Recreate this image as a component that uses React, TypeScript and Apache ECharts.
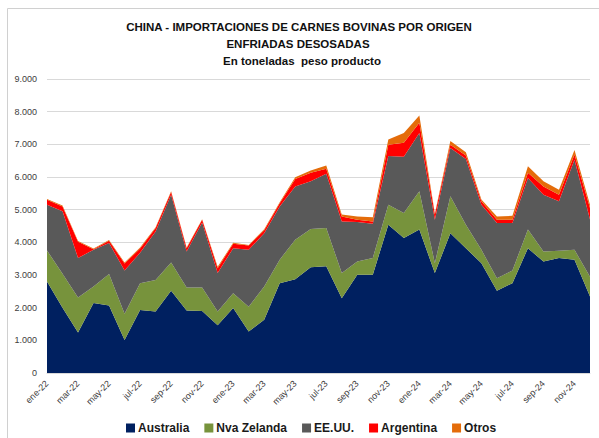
import React, { useEffect, useRef } from "react";
import * as echarts from "echarts";

const months = [
  "ene-22","feb-22","mar-22","abr-22","may-22","jun-22","jul-22","ago-22","sep-22","oct-22","nov-22","dic-22",
  "ene-23","feb-23","mar-23","abr-23","may-23","jun-23","jul-23","ago-23","sep-23","oct-23","nov-23","dic-23",
  "ene-24","feb-24","mar-24","abr-24","may-24","jun-24","jul-24","ago-24","sep-24","oct-24","nov-24","dic-24",
];

const australia = [2800,2000,1240,2140,2070,1010,1930,1880,2520,1910,1900,1460,1990,1270,1630,2750,2870,3240,3270,2290,3010,3010,4540,4130,4390,3060,4280,3820,3360,2520,2750,3820,3410,3520,3470,2340];
const nvaZelanda = [950,1040,1070,510,960,800,820,970,860,710,720,420,450,760,1020,720,1210,1170,1170,770,400,510,610,770,1170,300,1130,720,410,380,390,570,310,220,300,610];
const eeuu = [1400,1910,1210,1120,950,1330,930,1480,2080,1100,1990,1180,1380,1740,1630,1630,1630,1460,1660,1580,1210,1050,1490,1720,1790,1330,1480,2010,1380,1690,1450,1580,1740,1520,2760,1750];
const argentina = [150,150,500,20,70,210,130,110,80,100,80,150,140,130,90,100,230,260,150,150,70,70,350,430,310,160,100,110,110,100,100,160,250,200,160,350];
const otros = [30,30,20,20,20,30,30,20,20,20,20,40,30,20,30,30,50,70,100,60,100,130,160,300,220,30,110,100,50,100,120,200,160,150,140,100];

const yTicks = [0, 1000, 2000, 3000, 4000, 5000, 6000, 7000, 8000, 9000];

const fmt = (v: number) => String(v).replace(/\B(?=(\d{3})+(?!\d))/g, ".");

export default function App() {
  const ref = useRef<HTMLDivElement>(null);
  useEffect(() => {
    if (!ref.current) return;
    const chart = echarts.init(ref.current, null, { renderer: "svg" });
    const font = "Liberation Sans";
    const mk = (name: string, data: number[], color: string) => ({
      name,
      type: "line",
      stack: "total",
      data,
      symbol: "none",
      lineStyle: { width: 0 },
      areaStyle: { color, opacity: 1 },
      itemStyle: { color },
    });
    const title = (text: string, x: number, y: number) => ({
      type: "text",
      x,
      y,
      style: {
        text,
        fontFamily: font,
        fontWeight: "bold",
        fontSize: 11.5,
        fill: "#111",
        align: "center",
        verticalAlign: "middle",
      },
    });
    chart.setOption({
      animation: false,
      textStyle: { fontFamily: font },
      graphic: [
        {
          type: "rect",
          shape: { x: 7.5, y: 8.5, width: 620, height: 460 },
          style: { fill: "none", stroke: "#d0d0d0", lineWidth: 1 },
          silent: true,
        },
        title("CHINA - IMPORTACIONES DE CARNES BOVINAS POR ORIGEN", 299, 27),
        title("ENFRIADAS DESOSADAS", 298, 44),
        title("En toneladas  peso producto", 302, 61),
      ],
      grid: { left: 47, right: 9, top: 79, bottom: 65, containLabel: false },
      legend: {
        top: 421,
        left: 126,
        padding: 0,
        itemWidth: 9,
        itemHeight: 9,
        itemGap: 15,
        icon: "rect",
        textStyle: { fontFamily: font, fontSize: 12, lineHeight: 14, color: "#1a1a1a", fontWeight: "bold", padding: [0, 0, 0, -2] },
        data: ["Australia", "Nva Zelanda", "EE.UU.", "Argentina", "Otros"],
      },
      xAxis: {
        type: "category",
        data: months,
        boundaryGap: false,
        axisLine: { show: true, lineStyle: { color: "#d9d9d9" } },
        axisTick: { show: false },
        axisLabel: {
          interval: 1,
          rotate: 45,
          fontSize: 9,
          color: "#404040",
          margin: 9,
          fontFamily: font,
        },
      },
      yAxis: {
        type: "value",
        min: 0,
        max: 9000,
        interval: 1000,
        axisLine: { show: false },
        axisTick: { show: false },
        splitLine: { lineStyle: { color: "#d9d9d9" } },
        axisLabel: {
          fontSize: 9,
          color: "#404040",
          margin: 10,
          fontFamily: font,
          formatter: (v: number) => (yTicks.includes(v) ? fmt(v) : ""),
        },
      },
      series: [
        mk("Australia", australia, "#002060"),
        mk("Nva Zelanda", nvaZelanda, "#77933C"),
        mk("EE.UU.", eeuu, "#595959"),
        mk("Argentina", argentina, "#FF0000"),
        mk("Otros", otros, "#E46C0A"),
      ],
    });
    return () => chart.dispose();
  }, []);
  return <div ref={ref} style={{ width: 599, height: 438, position: "absolute", left: 0, top: 0 }} />;
}
